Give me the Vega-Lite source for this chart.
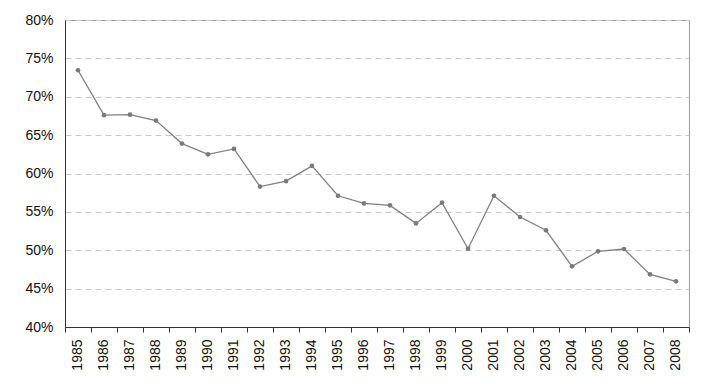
{
  "$schema": "https://vega.github.io/schema/vega-lite/v6.json",
  "autosize": "none",
  "width": 624,
  "height": 307,
  "padding": {"left": 65, "top": 20, "right": 20, "bottom": 62},
  "background": "white",
  "config": {
    "view": {"stroke": "#9a9a9a", "strokeWidth": 1},
    "font": "Liberation Sans"
  },
  "data": {
    "values": [
      {"year": "1985", "share": 0.7345},
      {"year": "1986", "share": 0.676},
      {"year": "1987", "share": 0.6766},
      {"year": "1988", "share": 0.669},
      {"year": "1989", "share": 0.639},
      {"year": "1990", "share": 0.625},
      {"year": "1991", "share": 0.632},
      {"year": "1992", "share": 0.583},
      {"year": "1993", "share": 0.590},
      {"year": "1994", "share": 0.610},
      {"year": "1995", "share": 0.571},
      {"year": "1996", "share": 0.561},
      {"year": "1997", "share": 0.5585},
      {"year": "1998", "share": 0.535},
      {"year": "1999", "share": 0.562},
      {"year": "2000", "share": 0.502},
      {"year": "2001", "share": 0.571},
      {"year": "2002", "share": 0.5433},
      {"year": "2003", "share": 0.526},
      {"year": "2004", "share": 0.479},
      {"year": "2005", "share": 0.4986},
      {"year": "2006", "share": 0.5016},
      {"year": "2007", "share": 0.4686},
      {"year": "2008", "share": 0.4595}
    ]
  },
  "encoding": {
    "x": {
      "field": "year",
      "type": "ordinal",
      "scale": {"type": "band", "paddingInner": 0, "paddingOuter": 0},
      "axis": {
        "title": null,
        "labelAngle": -90,
        "labelAlign": "right",
        "labelBaseline": "middle",
        "labelFontSize": 14,
        "labelColor": "#111111",
        "labelPadding": 7,
        "bandPosition": 1,
        "tickExtra": true,
        "tickSize": 5,
        "tickColor": "#333333",
        "domainColor": "#333333",
        "grid": false
      }
    },
    "y": {
      "field": "share",
      "type": "quantitative",
      "scale": {"domain": [0.4, 0.8], "nice": false, "zero": false},
      "axis": {
        "title": null,
        "format": ".0%",
        "values": [0.4, 0.45, 0.5, 0.55, 0.6, 0.65, 0.7, 0.75, 0.8],
        "labelFontSize": 14,
        "labelColor": "#111111",
        "labelPadding": 12,
        "ticks": false,
        "domainColor": "#333333",
        "grid": true,
        "gridColor": "#c8c8c8",
        "gridDash": [6, 4],
        "gridWidth": 1
      }
    }
  },
  "layer": [
    {"mark": {"type": "line", "color": "#808080", "strokeWidth": 1.3}},
    {"mark": {"type": "point", "filled": true, "color": "#7a7a7a", "opacity": 1, "size": 22}}
  ]
}
